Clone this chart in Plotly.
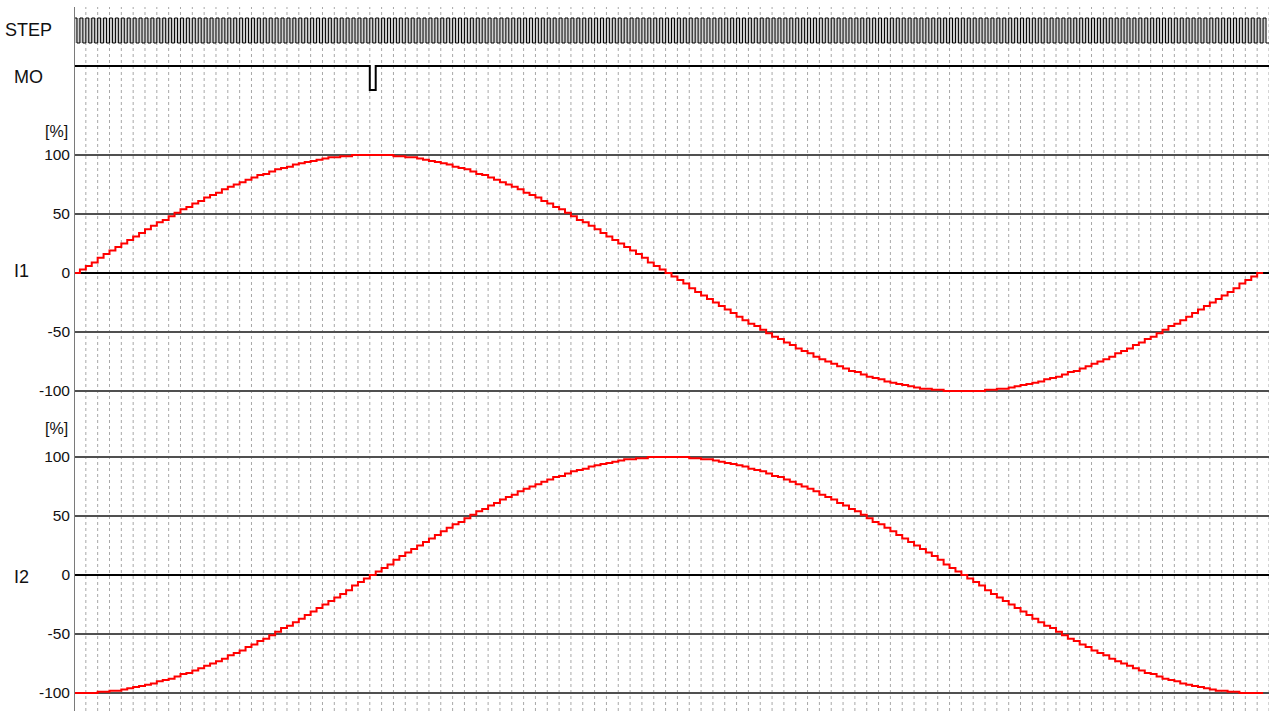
import plotly.graph_objects as go

W, H = 1277, 711
ML, MR = 74, 8

# Winding currents in percent of full scale, one value per STEP pulse (pulse 0..200)
i1_percent = [
    0, 3, 6, 9, 13, 16, 19, 22, 25, 28, 31, 34, 37, 40, 43, 45, 48, 51, 54, 56,
    59, 61, 64, 66, 68, 71, 73, 75, 77, 79, 81, 83, 84, 86, 88, 89, 90, 92, 93, 94,
    95, 96, 97, 98, 98, 99, 99, 100, 100, 100, 100,
    100, 100, 100, 99, 99, 98, 98, 97, 96, 95, 94, 93, 92, 90, 89, 88, 86, 84, 83,
    81, 79, 77, 75, 73, 71, 68, 66, 64, 61, 59, 56, 54, 51, 48, 45, 43, 40, 37, 34,
    31, 28, 25, 22, 19, 16, 13, 9, 6, 3, 0,
    -3, -6, -9, -13, -16, -19, -22, -25, -28, -31, -34, -37, -40, -43, -45, -48, -51,
    -54, -56, -59, -61, -64, -66, -68, -71, -73, -75, -77, -79, -81, -83, -84, -86,
    -88, -89, -90, -92, -93, -94, -95, -96, -97, -98, -98, -99, -99, -100, -100, -100,
    -100,
    -100, -100, -100, -99, -99, -98, -98, -97, -96, -95, -94, -93, -92, -90, -89,
    -88, -86, -84, -83, -81, -79, -77, -75, -73, -71, -68, -66, -64, -61, -59, -56,
    -54, -51, -48, -45, -43, -40, -37, -34, -31, -28, -25, -22, -19, -16, -13, -9,
    -6, -3, 0,
]

i2_percent = [
    -100, -100, -100, -100, -99, -99, -98, -98, -97, -96, -95, -94, -93, -92, -90,
    -89, -88, -86, -84, -83, -81, -79, -77, -75, -73, -71, -68, -66, -64, -61, -59,
    -56, -54, -51, -48, -45, -43, -40, -37, -34, -31, -28, -25, -22, -19, -16, -13,
    -9, -6, -3, 0,
    3, 6, 9, 13, 16, 19, 22, 25, 28, 31, 34, 37, 40, 43, 45, 48, 51, 54, 56,
    59, 61, 64, 66, 68, 71, 73, 75, 77, 79, 81, 83, 84, 86, 88, 89, 90, 92, 93, 94,
    95, 96, 97, 98, 98, 99, 99, 100, 100, 100, 100,
    100, 100, 100, 99, 99, 98, 98, 97, 96, 95, 94, 93, 92, 90, 89, 88, 86, 84, 83,
    81, 79, 77, 75, 73, 71, 68, 66, 64, 61, 59, 56, 54, 51, 48, 45, 43, 40, 37, 34,
    31, 28, 25, 22, 19, 16, 13, 9, 6, 3, 0,
    -3, -6, -9, -13, -16, -19, -22, -25, -28, -31, -34, -37, -40, -43, -45, -48, -51,
    -54, -56, -59, -61, -64, -66, -68, -71, -73, -75, -77, -79, -81, -83, -84, -86,
    -88, -89, -90, -92, -93, -94, -95, -96, -97, -98, -98, -99, -99, -100, -100, -100,
    -100,
]

# MO output level per pulse: goes low on pulse 50 only
mo_level = [1] * 50 + [0] + [1] * 150

# Number of STEP pulses drawn in the pulse train
step_pulses = 202

tick_values = [100, 50, 0, -50, -100]
tick_labels = ["100", "50", "0", "-50", "-100"]

FONT = "Liberation Sans, Arial, sans-serif"
TEXT = "#111"


def dom(top_px, bottom_px):
    return [1 - bottom_px / H, 1 - top_px / H]


def hv_xy(values):
    xs = list(range(len(values))) + [len(values)]
    ys = list(values) + [values[-1]]
    return xs, ys


fig = go.Figure()

# STEP pulse train
sx, sy = [0], [0]
for k in range(step_pulses):
    sx += [k, k + 0.5]
    sy += [1, 0]
sx.append(step_pulses)
sy.append(0)
fig.add_trace(go.Scatter(x=sx, y=sy, mode="lines", line=dict(color="#000", width=1, shape="hv"),
                         yaxis="y3", hoverinfo="skip", showlegend=False))

# MO signal
mx, my = hv_xy(mo_level)
mx.append(step_pulses)
my.append(mo_level[-1])
fig.add_trace(go.Scatter(x=mx, y=my, mode="lines", line=dict(color="#000", width=2, shape="hv"),
                         yaxis="y4", hoverinfo="skip", showlegend=False))

# Winding currents
x1, y1 = hv_xy(i1_percent)
fig.add_trace(go.Scatter(x=x1, y=y1, mode="lines", line=dict(color="#ff0000", width=2, shape="hv"),
                         yaxis="y", hoverinfo="skip", showlegend=False))
x2, y2 = hv_xy(i2_percent)
fig.add_trace(go.Scatter(x=x2, y=y2, mode="lines", line=dict(color="#ff0000", width=2, shape="hv"),
                         yaxis="y2", hoverinfo="skip", showlegend=False))

top_paper = 1 - 7 / H
shapes = []
# dotted time grid, one line every two pulses
for gx in range(2, step_pulses + 1, 2):
    shapes.append(dict(type="line", xref="x", yref="paper", x0=gx, x1=gx, y0=0, y1=top_paper,
                       line=dict(color="#a8a8a8", width=1, dash="dot"), layer="below"))
# shaded band behind the pulse train
shapes.append(dict(type="rect", xref="x", yref="y3", x0=0, x1=step_pulses - 0.5, y0=0, y1=1,
                   fillcolor="#d0d0d0", line=dict(width=0), layer="below"))
# left time axis
shapes.append(dict(type="line", xref="x", yref="paper", x0=0, x1=0, y0=0, y1=top_paper,
                   line=dict(color="#7a7a7a", width=2), layer="above"))

yax_common = dict(range=[-110, 110], tickvals=tick_values, ticktext=tick_labels,
                  showgrid=True, gridcolor="#505050", gridwidth=1.5,
                  zeroline=True, zerolinecolor="#000", zerolinewidth=1.5,
                  showline=False, ticks="", ticklabelstandoff=3,
                  tickfont=dict(family=FONT, size=15.5, color=TEXT), fixedrange=True)


def ann(text, px, py, anchor="left", size=18):
    return dict(text=text, xref="paper", yref="paper",
                x=(px - ML) / (W - ML - MR), y=1 - py / H,
                xanchor=anchor, yanchor="middle", showarrow=False,
                font=dict(family=FONT, size=size, color=TEXT))


annotations = [
    ann("STEP", 3, 30),
    ann("MO", 12, 77),
    ann("I1", 12, 271),
    ann("I2", 12, 577),
    ann("[%]", 70, 132, anchor="right", size=16),
    ann("[%]", 70, 428, anchor="right", size=16),
]

fig.update_layout(
    width=W, height=H,
    margin=dict(l=ML, r=MR, t=0, b=0, pad=0),
    paper_bgcolor="#fff", plot_bgcolor="rgba(0,0,0,0)",
    showlegend=False,
    xaxis=dict(range=[0, step_pulses], domain=[0, 1], visible=False, fixedrange=True),
    yaxis=dict(domain=dom(143.2, 402.8), anchor="x", **yax_common),
    yaxis2=dict(domain=dom(445.2, 704.8), anchor="x", **yax_common),
    yaxis3=dict(domain=dom(13, 48), range=[-0.2, 1.2], anchor="x", visible=False, fixedrange=True),
    yaxis4=dict(domain=dom(61.2, 94.8), range=[-0.2, 1.2], anchor="x", visible=False, fixedrange=True),
    shapes=shapes,
    annotations=annotations,
)

fig.write_html("out.html")
